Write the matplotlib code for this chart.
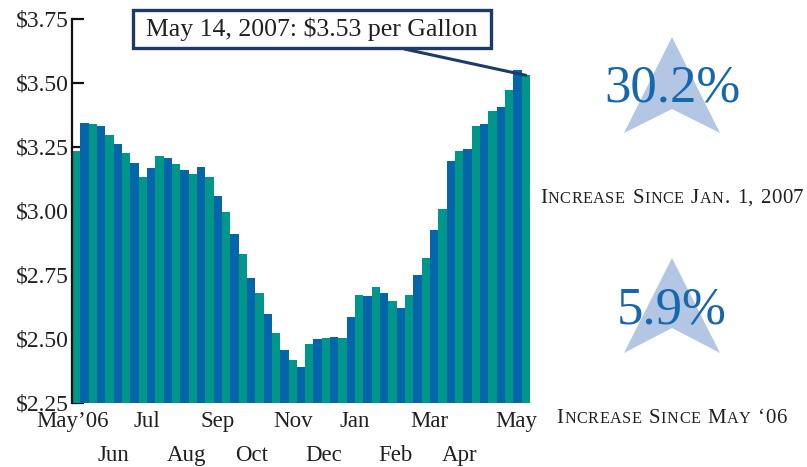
import numpy as np
import matplotlib
matplotlib.use("Agg")
import matplotlib.pyplot as plt
from matplotlib.patches import Polygon

plt.rcParams['font.family'] = ['Liberation Serif', 'DejaVu Serif']

# Weekly average regular gasoline price, May 1 2006 - May 14 2007 ($/gallon)
prices = [
    3.236, 3.344, 3.341, 3.331, 3.298, 3.260, 3.225, 3.186, 3.132, 3.169,
    3.215, 3.207, 3.182, 3.159, 3.143, 3.172, 3.132, 3.057, 2.995, 2.910,
    2.832, 2.737, 2.678, 2.597, 2.523, 2.458, 2.417, 2.391, 2.479, 2.499,
    2.503, 2.507, 2.504, 2.586, 2.671, 2.667, 2.704, 2.680, 2.647, 2.620,
    2.672, 2.749, 2.816, 2.927, 3.008, 3.194, 3.236, 3.242, 3.331, 3.340,
    3.391, 3.406, 3.473, 3.551, 3.530,
]
weeks = list(range(len(prices)))

y_ticks = [2.25, 2.50, 2.75, 3.00, 3.25, 3.50, 3.75]
y_labels = ["$2.25", "$2.50", "$2.75", "$3.00", "$3.25", "$3.50", "$3.75"]

months_row1 = ["May\u201906", "Jul", "Sep", "Nov", "Jan", "Mar", "May"]
months_row2 = ["Jun", "Aug", "Oct", "Dec", "Feb", "Apr"]
# label positions along the week axis
row1_pos = [0.1, 9.0, 17.5, 26.5, 34.0, 42.9, 53.4]
row2_pos = [5.0, 13.7, 21.6, 30.2, 38.8, 46.6]

callout = "May 14, 2007: $3.53 per Gallon"
stat_values = ["30.2%", "5.9%"]
stat_captions = ["Increase Since Jan. 1, 2007", "Increase Since May \u201806"]

TEAL = "#00978A"
BLUE = "#0565AB"
NAVY = "#1F3A66"
STAR = "#B3C6E3"
STAT_BLUE = "#1767AC"
INK = "#231F20"

W, H = 807, 467
fig = plt.figure(figsize=(W / 100, H / 100), dpi=100)
ax = fig.add_axes([72 / W, 64 / H, 458 / W, 384 / H])

colors = [TEAL if i % 2 == 0 else BLUE for i in weeks]
ax.bar(np.array(weeks) + 0.5, prices, width=1.0, color=colors, linewidth=0)

ax.set_xlim(0, len(prices))
ax.set_ylim(2.25, 3.75)
ax.set_axisbelow(True)

for side in ("top", "right", "bottom"):
    ax.spines[side].set_visible(False)
ax.spines["left"].set_linewidth(1.6)
ax.spines["left"].set_color("#111111")

ax.set_yticks(y_ticks)
ax.set_yticklabels(y_labels)
ax.tick_params(axis="y", direction="in", length=8.5, width=1.6, color="#111111",
               pad=2.5, labelsize=17, labelcolor=INK)

ax.set_xticks(row1_pos)
ax.set_xticklabels(months_row1)
ax.set_xticks(row2_pos, minor=True)
ax.set_xticklabels(months_row2, minor=True)
ax.tick_params(axis="x", which="major", length=0, pad=5.5, labelsize=16.5, labelcolor=INK)
ax.tick_params(axis="x", which="minor", length=0, pad=30.5, labelsize=16.5, labelcolor=INK)

ax.annotate(callout, xy=(weeks[-1] + 0.5, prices[-1]), xycoords="data",
            xytext=(312, H - 29), textcoords="figure pixels",
            ha="center", va="center", fontsize=18.5, color=INK,
            bbox=dict(boxstyle="square,pad=0.5", fc="white", ec=NAVY, lw=2.4,
                      mutation_aspect=0.55),
            arrowprops=dict(arrowstyle="-", color=NAVY, lw=2.2,
                            shrinkA=0, shrinkB=0))


def fx(px):
    return px / W


def fy(py):
    return (H - py) / H


def draw_star(cx, top, bottom, half_w, notch):
    pts = [(cx, top), (cx + half_w, bottom), (cx, notch), (cx - half_w, bottom)]
    fig.add_artist(Polygon([(fx(x), fy(y)) for x, y in pts], closed=True,
                           transform=fig.transFigure, fc=STAR, ec="none", zorder=1))


def small_caps(text, cx, baseline, size, ratio=0.78, color=INK, tracking=0.5):
    renderer = fig.canvas.get_renderer()
    pieces = []
    words = text.split(" ")
    for wi, word in enumerate(words):
        run, run_low = "", None
        for ch in word:
            low = ch.islower()
            if run and low != run_low:
                pieces.append((run, run_low))
                run = ""
            run += ch
            run_low = low
        if run:
            pieces.append((run, run_low))
        if wi < len(words) - 1:
            pieces.append((" ", None))
    probe = fig.text(0, 0, "n n", fontsize=size)
    probe2 = fig.text(0, 0, "nn", fontsize=size)
    space = (probe.get_window_extent(renderer).width
             - probe2.get_window_extent(renderer).width)
    probe.remove()
    probe2.remove()
    artists = []
    total = 0.0
    for s, low in pieces:
        if low is None:
            artists.append((None, space * 1.3))
            total += space * 1.3
            continue
        for ch in s:
            t = fig.text(0, fy(baseline), ch.upper() if low else ch,
                         fontsize=size * ratio if low else size,
                         color=color, ha="left", va="baseline")
            w = t.get_window_extent(renderer).width + tracking
            artists.append((t, w))
            total += w
    x = cx - total / 2
    for t, w in artists:
        if t is not None:
            t.set_x(fx(x))
        x += w


draw_star(672, 37, 133, 48, 109)
draw_star(672, 258, 353, 48, 328)
fig.text(fx(672), fy(102), stat_values[0], fontsize=38, color=STAT_BLUE,
         ha="center", va="baseline", zorder=2)
fig.text(fx(672), fy(323), stat_values[1], fontsize=38, color=STAT_BLUE,
         ha="center", va="baseline", zorder=2)
small_caps(stat_captions[0], 672, 203, 15)
small_caps(stat_captions[1], 672, 423, 15)

fig.savefig("out.png", dpi=100)
